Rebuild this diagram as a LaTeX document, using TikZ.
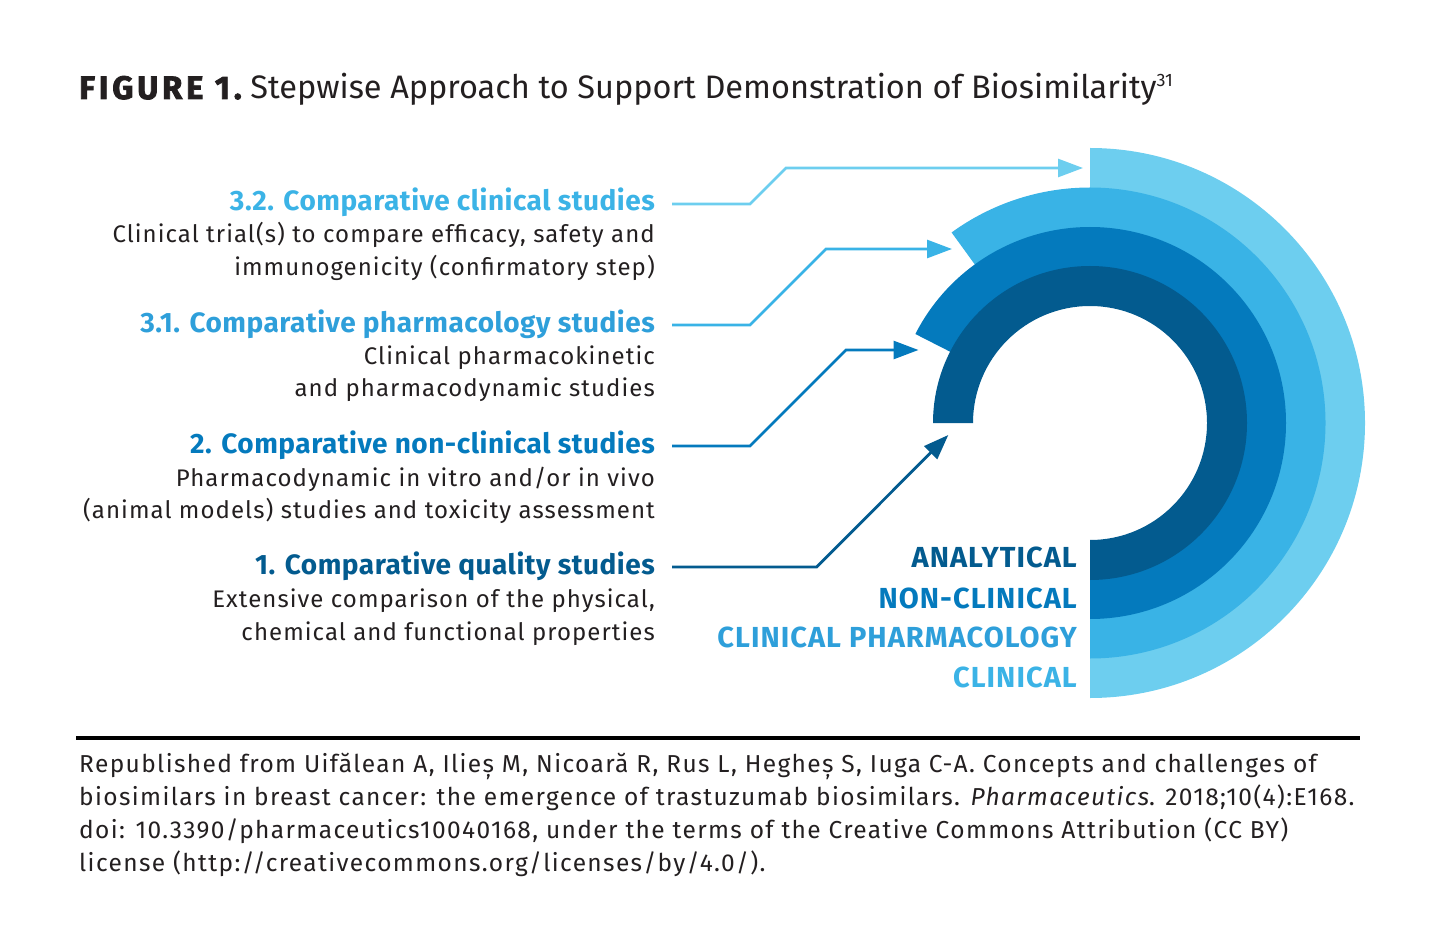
\documentclass[tikz,border=0pt]{standalone}
\usepackage{fontspec}
\setmainfont{Fira Sans}
\usetikzlibrary{arrows.meta,calc}
\definecolor{ringA}{HTML}{035B8F}
\definecolor{ringN}{HTML}{047ABD}
\definecolor{ringP}{HTML}{39B3E6}
\definecolor{ringC}{HTML}{6DCEEF}
\definecolor{txtP}{HTML}{2E9FDA}
\definecolor{txtC}{HTML}{3BB3E6}
\definecolor{ink}{HTML}{231F20}
\tikzset{
  bodytxt/.style={anchor=base east, inner sep=0pt, text=ink, font=\fontsize{24}{28}\selectfont\addfontfeature{LetterSpace=4.4}},
  headtxt/.style={anchor=base east, inner sep=0pt, font=\fontsize{28}{30}\selectfont\bfseries\addfontfeature{LetterSpace=1.8}},
  ringtxt/.style={anchor=base east, inner sep=0pt, font=\fontsize{29}{30}\selectfont\bfseries\addfontfeature{LetterSpace=3.6}},
  foottxt/.style={anchor=base west, inner sep=0pt, text=ink, font=\fontsize{24.5}{28}\selectfont\addfontfeature{LetterSpace=5.6}},
  conn/.style={line width=2.8pt, -{Triangle[length=25pt,width=18pt]}},
}
\begin{document}
\begin{tikzpicture}[x=1pt,y=1pt]
\useasboundingbox (0,0) rectangle (1435,-949);

% title
\node[anchor=base west, inner sep=0pt, text=ink, font=\fontsize{32.5}{36}\selectfont] (title) at (79,-99)
  {{\bfseries\addfontfeature{FakeBold=2.5,LetterSpace=12}FIGURE 1.}\ Stepwise Approach to Support Demonstration of Biosimilarity\raisebox{12pt}{\fontsize{18}{18}\selectfont 31}};

% rings
\coordinate (O) at (1090,-423);
\fill[ringC] ($(O)+(-90:275pt)$) arc[start angle=-90,end angle=90,radius=275pt]
  -- ($(O)+(90:234.5pt)$) arc[start angle=90,end angle=-90,radius=234.5pt] -- cycle;
\fill[ringP] ($(O)+(-90:235.5pt)$) arc[start angle=-90,end angle=126,radius=235.5pt]
  -- ($(O)+(126:195pt)$) arc[start angle=126,end angle=-90,radius=195pt] -- cycle;
\fill[ringN] ($(O)+(-90:196pt)$) arc[start angle=-90,end angle=153,radius=196pt]
  -- ($(O)+(153:156pt)$) arc[start angle=153,end angle=-90,radius=156pt] -- cycle;
\fill[ringA] ($(O)+(-90:157pt)$) arc[start angle=-90,end angle=180,radius=157pt]
  -- ($(O)+(180:117pt)$) arc[start angle=180,end angle=-90,radius=117pt] -- cycle;

% ring labels
\node[ringtxt, text=ringA] (lA) at (1077,-567) {ANALYTICAL};
\node[ringtxt, text=ringN] (lN) at (1077,-608) {NON-CLINICAL};
\node[ringtxt, text=txtP] (lP) at (1077,-647) {CLINICAL PHARMACOLOGY};
\node[ringtxt, text=txtC] (lC) at (1077,-687) {CLINICAL};

% left texts
\node[headtxt, text=txtC] (h32) at (655,-211) {3.2. Comparative clinical studies};
\node[bodytxt] (b32a) at (655,-243) {Clinical trial(s) to compare efficacy, safety and};
\node[bodytxt] (b32b) at (655,-276) {immunogenicity (confirmatory step)};

\node[headtxt, text=txtP] (h31) at (655,-333) {3.1. Comparative pharmacology studies};
\node[bodytxt] (b31a) at (655,-365) {Clinical pharmacokinetic};
\node[bodytxt] (b31b) at (655,-397) {and pharmacodynamic studies};

\node[headtxt, text=ringN] (h2) at (655,-453) {2. Comparative non-clinical studies};
\node[bodytxt] (b2a) at (655,-486) {Pharmacodynamic in vitro and/or in vivo};
\node[bodytxt] (b2b) at (655,-518) {(animal models) studies and toxicity assessment};

\node[headtxt, text=ringA] (h1) at (655,-574) {1. Comparative quality studies};
\node[bodytxt] (b1a) at (655,-607) {Extensive comparison of the physical,};
\node[bodytxt] (b1b) at (655,-640) {chemical and functional properties};

% connector ends
\coordinate (s32) at (672,-204);
\coordinate (t32) at (1083,-168);
\coordinate (s31) at (672,-325);
\coordinate (t31) at (952,-249);
\coordinate (s2) at (672,-446);
\coordinate (t2) at (918.5,-350);
\coordinate (s1) at (672,-567);
\coordinate (t1) at (948.3,-435);

\draw[conn, ringC] (s32) -- ++(78,0) -- ++(36,36) -- (t32);
\draw[conn, ringP] (s31) -- ++(78,0) -- ++(76,76) -- (t31);
\draw[conn, ringN] (s2) -- ++(78,0) -- ++(96,96) -- (t2);
\draw[conn, ringA] (s1) -- ++(144.7,0) -- (t1);

% rule
\draw[line width=4.5pt] (76,-738) -- (1360,-738);

% footer
\node[foottxt] (f1) at (79,-772) {Republished from Uifălean A, Ilieș M, Nicoară R, Rus L, Hegheș S, Iuga C-A. Concepts and challenges of};
\node[foottxt] (f2) at (79,-805) {biosimilars in breast cancer: the emergence of trastuzumab biosimilars. \textit{Pharmaceutics}. 2018;10(4):E168.};
\node[foottxt] (f3) at (79,-838) {doi: 10.3390/pharmaceutics10040168, under the terms of the Creative Commons Attribution (CC BY)};
\node[foottxt] (f4) at (79,-871) {license (http://creativecommons.org/licenses/by/4.0/).};
\end{tikzpicture}
\end{document}
